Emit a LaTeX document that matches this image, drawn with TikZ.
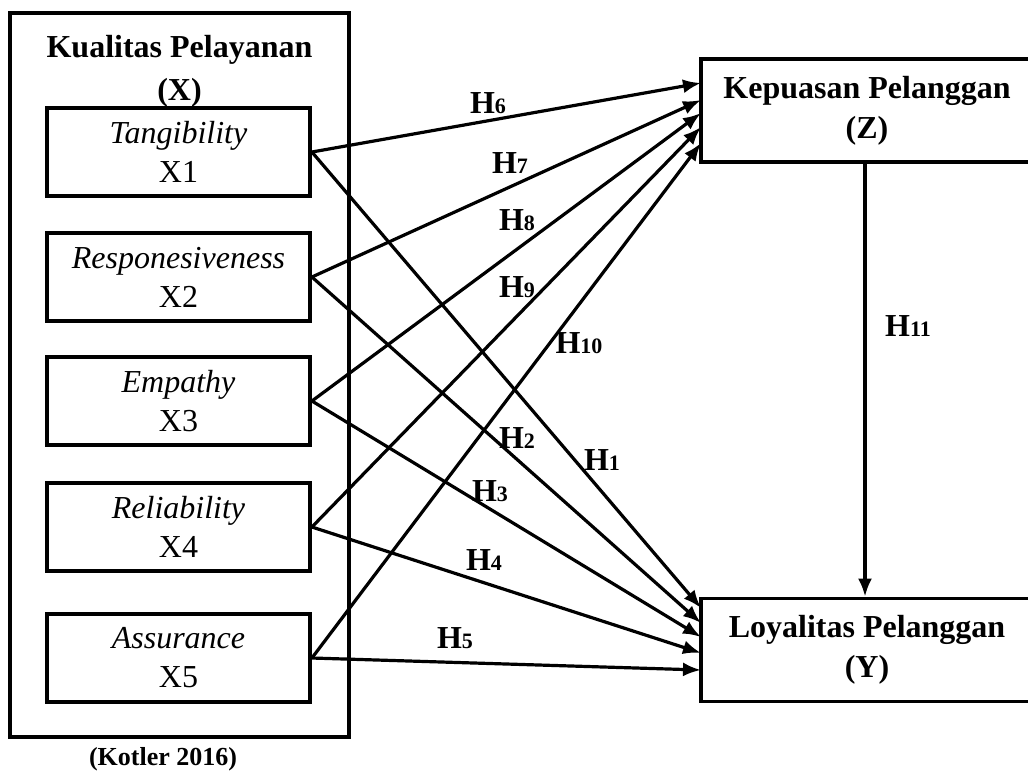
\documentclass[tikz,border=0pt]{standalone}
\usepackage{fontspec}
\setmainfont{Liberation Serif}
\usepackage{tikz}
\usetikzlibrary{positioning, arrows.meta}
\tikzstyle{pixelGrid} = [x = 0.5pt, y = -0.5pt]
\tikzstyle{boxLine} = [draw, line width = 1.9pt, inner sep = 0pt, align = center]
\tikzstyle{dimensionBox} = [boxLine, minimum width = 131.5pt, minimum height = 44pt, font = \fontsize{16}{19.5}\selectfont]
\tikzstyle{variableBox} = [boxLine, minimum width = 166pt, minimum height = 51.5pt, font = \bfseries\fontsize{16}{20}\selectfont]
\tikzstyle{pathArrow} = [-{Latex[length = 9pt, width = 7pt]}, line width = 1.6pt]
\tikzstyle{hypText} = [inner sep = 0pt, font = \bfseries\fontsize{16}{16}\selectfont]
\newcommand{\hyp}[1]{H{\fontsize{11}{11}\selectfont #1}}
\newcommand{\dimension}[4]{\node [dimensionBox] (#1) at (178.5, #2) {\textit{#3}\\#4};}
\newcommand{\hypLabel}[4]{\node [hypText] (#1) at (#2, #3) {\hyp{#4}};}

\begin{document}
\begin{tikzpicture}[pixelGrid]
  \useasboundingbox (0,0) rectangle (1028,773);
  \clip (0,0) rectangle (1028,773);

  % kualitas pelayanan
  \node [boxLine, minimum width = 169.5pt, minimum height = 362pt] (kualitas) at (179.5, 375) {};
  \node [align = center, inner sep = 0pt, font = \bfseries\fontsize{16}{21.5}\selectfont] (judul) at (179.5, 71) {Kualitas Pelayanan\\(X)};
  \dimension{x1}{152}{Tangibility}{X1}
  \dimension{x2}{277}{Responesiveness}{X2}
  \dimension{x3}{401}{Empathy}{X3}
  \dimension{x4}{527}{Reliability}{X4}
  \dimension{x5}{658}{Assurance}{X5}
  \node [inner sep = 0pt, font = \bfseries\fontsize{13}{13}\selectfont] (sumber) at (163, 759) {(Kotler 2016)};

  % kepuasan dan loyalitas
  \node [variableBox] (kepuasan) at (867, 110.5) {Kepuasan Pelanggan\\(Z)};
  \node [variableBox] (loyalitas) at (867, 650) {Loyalitas Pelanggan\\(Y)};

  \coordinate (z6) at (701, 83);
  \coordinate (z7) at (701, 100);
  \coordinate (z8) at (701, 113);
  \coordinate (z9) at (701, 127);
  \coordinate (z10) at (701, 143);
  \coordinate (y1) at (701, 608);
  \coordinate (y2) at (701, 623);
  \coordinate (y3) at (701, 637);
  \coordinate (y4) at (701, 653);
  \coordinate (y5) at (701, 670);

  \draw [pathArrow] (x1.east) -- (z6);
  \draw [pathArrow] (x2.east) -- (z7);
  \draw [pathArrow] (x3.east) -- (z8);
  \draw [pathArrow] (x4.east) -- (z9);
  \draw [pathArrow] (x5.east) -- (z10);
  \draw [pathArrow] (x1.east) -- (y1);
  \draw [pathArrow] (x2.east) -- (y2);
  \draw [pathArrow] (x3.east) -- (y3);
  \draw [pathArrow] (x4.east) -- (y4);
  \draw [pathArrow] (x5.east) -- (y5);
  \draw [pathArrow] (kepuasan.south -| 865, 0) -- (loyalitas.north -| 865, 0);

  \hypLabel{h1}{602}{460}{1}
  \hypLabel{h2}{517}{438}{2}
  \hypLabel{h3}{490}{491}{3}
  \hypLabel{h4}{484}{560}{4}
  \hypLabel{h5}{455}{638}{5}
  \hypLabel{h6}{488}{103}{6}
  \hypLabel{h7}{510}{163}{7}
  \hypLabel{h8}{517}{220}{8}
  \hypLabel{h9}{517}{287}{9}
  \hypLabel{h10}{579}{343}{10}
  \hypLabel{h11}{908}{326}{11}
\end{tikzpicture}
\end{document}
